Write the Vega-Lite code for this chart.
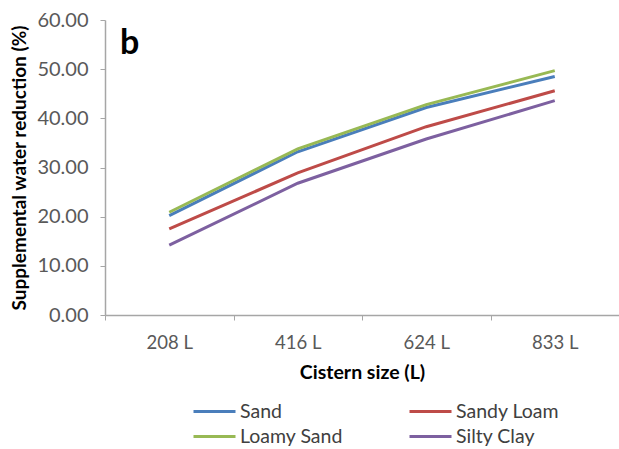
{
  "$schema": "https://vega.github.io/schema/vega-lite/v6.json",
  "width": 514,
  "height": 295,
  "autosize": {"type": "none"},
  "padding": {"left": 105, "top": 20, "right": 0, "bottom": 134},
  "background": "white",
  "config": {
    "view": {"stroke": null},
    "font": "Lato"
  },
  "title": {
    "text": "b",
    "frame": "group",
    "anchor": "start",
    "orient": "top",
    "baseline": "alphabetic",
    "offset": -78,
    "dx": 15,
    "fontSize": 34,
    "fontWeight": "bold",
    "color": "#000000"
  },
  "data": {
    "values": [
      {"size": "208 L", "soil": "Sand", "reduction": 20.2},
      {"size": "416 L", "soil": "Sand", "reduction": 33.2},
      {"size": "624 L", "soil": "Sand", "reduction": 42.2},
      {"size": "833 L", "soil": "Sand", "reduction": 48.5},
      {"size": "208 L", "soil": "Loamy Sand", "reduction": 20.9},
      {"size": "416 L", "soil": "Loamy Sand", "reduction": 33.8},
      {"size": "624 L", "soil": "Loamy Sand", "reduction": 42.8},
      {"size": "833 L", "soil": "Loamy Sand", "reduction": 49.7},
      {"size": "208 L", "soil": "Sandy Loam", "reduction": 17.5},
      {"size": "416 L", "soil": "Sandy Loam", "reduction": 28.9},
      {"size": "624 L", "soil": "Sandy Loam", "reduction": 38.3},
      {"size": "833 L", "soil": "Sandy Loam", "reduction": 45.6},
      {"size": "208 L", "soil": "Silty Clay", "reduction": 14.2},
      {"size": "416 L", "soil": "Silty Clay", "reduction": 26.8},
      {"size": "624 L", "soil": "Silty Clay", "reduction": 35.8},
      {"size": "833 L", "soil": "Silty Clay", "reduction": 43.6}
    ]
  },
  "mark": {"type": "line", "strokeWidth": 3},
  "encoding": {
    "x": {
      "field": "size",
      "type": "ordinal",
      "sort": ["208 L", "416 L", "624 L", "833 L"],
      "scale": {"type": "band", "paddingInner": 0, "paddingOuter": 0},
      "axis": {
        "title": "Cistern size (L)",
        "titleFontSize": 19.5,
        "titleFontWeight": "bold",
        "titleColor": "#000000",
        "titlePadding": 12,
        "labelAngle": 0,
        "labelFontSize": 18.5,
        "labelColor": "#595959",
        "labelPadding": 13,
        "tickBand": "extent",
        "tickSize": 5,
        "tickColor": "#a6a6a6",
        "domainColor": "#a6a6a6",
        "domainWidth": 1.5
      }
    },
    "y": {
      "field": "reduction",
      "type": "quantitative",
      "scale": {"domain": [0, 60]},
      "axis": {
        "title": "Supplemental water reduction (%)",
        "titleFontSize": 19,
        "titleFontWeight": "bold",
        "titleColor": "#000000",
        "titlePadding": 7,
        "values": [0, 10, 20, 30, 40, 50, 60],
        "format": ".2f",
        "grid": false,
        "labelFontSize": 20,
        "labelColor": "#595959",
        "labelPadding": 12,
        "tickSize": 5,
        "tickColor": "#a6a6a6",
        "domainColor": "#a6a6a6",
        "domainWidth": 1.5
      }
    },
    "color": {
      "field": "soil",
      "type": "nominal",
      "scale": {
        "domain": ["Sand", "Loamy Sand", "Sandy Loam", "Silty Clay"],
        "range": ["#4a7ebb", "#98b954", "#be4b48", "#7d60a0"]
      },
      "legend": {
        "title": null,
        "orient": "none",
        "legendX": 98,
        "legendY": 380,
        "columns": 2,
        "columnPadding": 60,
        "rowPadding": 4,
        "symbolType": "M-2.1,0H2.1",
        "symbolSize": 400,
        "symbolStrokeWidth": 3,
        "labelOffset": 14,
        "labelFontSize": 19.5,
        "labelColor": "#404040",
        "padding": 0
      }
    }
  }
}
